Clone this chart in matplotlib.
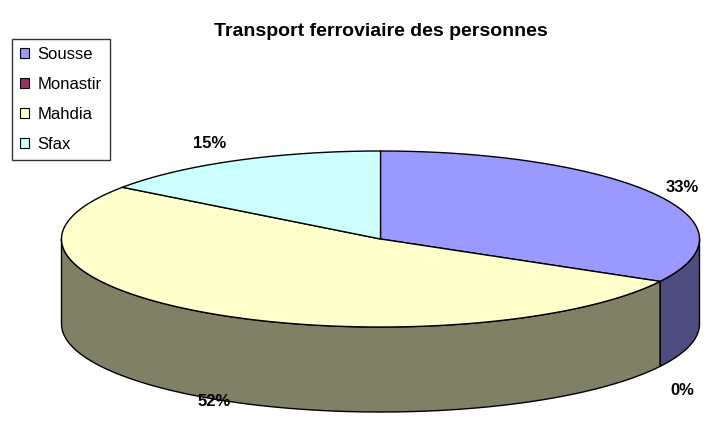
import numpy as np
import matplotlib.pyplot as plt
from matplotlib.patches import Polygon, Patch

plt.rcParams['font.family'] = ['Liberation Sans', 'DejaVu Sans']

villes = ["Sousse", "Monastir", "Mahdia", "Sfax"]
parts = [33, 0, 52, 15]
couleurs = ["#9999FF", "#993366", "#FFFFCC", "#CCFFFF"]
titre = "Transport ferroviaire des personnes"

# ellipse geometry in pixel units
cx, cy = 380.5, 239.0
a, b = 319.0, 88.0
depth = 85.0

def darker(c, f=0.5):
    c = c.lstrip("#")
    r, g, bl = (int(c[i:i + 2], 16) for i in (0, 2, 4))
    return (r * f / 255, g * f / 255, bl * f / 255)

def ell(t, dz=0.0):
    t = np.radians(t)
    return np.column_stack([cx + a * np.cos(t), cy - b * np.sin(t) + dz])

fig = plt.figure(figsize=(7.04, 4.34), dpi=100)
ax = fig.add_axes([0, 0, 1, 1])
ax.set_xlim(0, 704)
ax.set_ylim(434, 0)
ax.axis("off")

total = sum(parts)
angles = [90.0]
for p in parts:
    angles.append(angles[-1] - 360.0 * p / total)

# front walls
for i, p in enumerate(parts):
    t1, t2 = angles[i + 1], angles[i]
    lo, hi = max(t1, -180.0), min(t2, 0.0)
    if p == 0 or hi <= lo:
        continue
    ts = np.linspace(lo, hi, 200)
    pts = np.vstack([ell(ts), ell(ts[::-1], depth)])
    ax.add_patch(Polygon(pts, closed=True, facecolor=darker(couleurs[i]),
                         edgecolor="black", lw=1.0, joinstyle="round"))

# top faces
for i, p in enumerate(parts):
    if p == 0:
        continue
    ts = np.linspace(angles[i + 1], angles[i], 300)
    pts = np.vstack([[cx, cy], ell(ts)])
    ax.add_patch(Polygon(pts, closed=True, facecolor=couleurs[i],
                         edgecolor="black", lw=1.0, joinstyle="round"))

# data labels
nudge = [(0, -2), (-6, 20), (22, -4), (-12, -9)]
for i, p in enumerate(parts):
    mid = np.radians((angles[i] + angles[i + 1]) / 2)
    x = cx + 1.1 * a * np.cos(mid)
    y = cy - 1.1 * b * np.sin(mid)
    if np.sin(mid) < 0:
        y += depth
    ax.text(x + nudge[i][0], y + nudge[i][1], f"{p}%", ha="center", va="center",
            fontsize=12, fontweight="bold")

ax.text(381, 32, titre, ha="center", va="center", fontsize=14, fontweight="bold")

handles = [Patch(facecolor=c, edgecolor="black", lw=0.8) for c in couleurs]
leg = fig.legend(handles, villes, loc="upper left",
                 bbox_to_anchor=(11.5 / 704, 1 - 38.5 / 434), fontsize=12,
                 frameon=True, fancybox=False, edgecolor="black",
                 handlelength=0.55, handleheight=0.55, handletextpad=0.5,
                 labelspacing=0.9, borderpad=0.5, borderaxespad=0)
leg.get_frame().set_linewidth(1.0)

fig.savefig("out.png", dpi=100)
